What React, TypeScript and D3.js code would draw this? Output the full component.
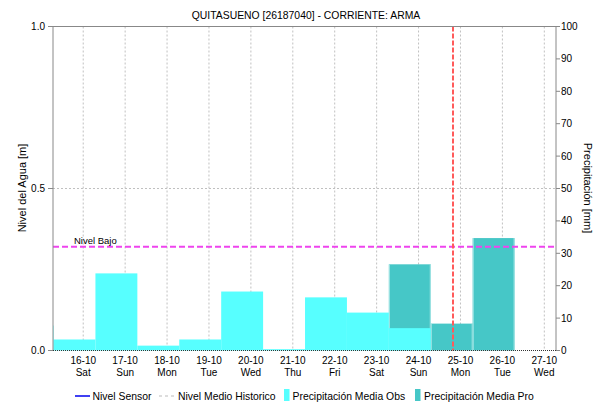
import React from "react";
import * as d3 from "d3";

const title = "QUITASUENO [26187040] - CORRIENTE: ARMA";
// precipitation periods start at 07:00 of these dates (24h accumulation)
const obsDates = ["2021-10-14", "2021-10-15", "2021-10-16", "2021-10-17", "2021-10-18", "2021-10-19", "2021-10-20", "2021-10-21", "2021-10-22", "2021-10-23"];
const obsValues = [7.7, 3.4, 23.8, 1.5, 3.4, 18.2, 0.4, 16.4, 11.7, 6.9];
const proDates = ["2021-10-23", "2021-10-24", "2021-10-25"];
const proValues = [26.6, 8.3, 34.7];
const tickDates = ["2021-10-16", "2021-10-17", "2021-10-18", "2021-10-19", "2021-10-20", "2021-10-21", "2021-10-22", "2021-10-23", "2021-10-24", "2021-10-25", "2021-10-26", "2021-10-27"];
const tickDays = ["Sat", "Sun", "Mon", "Tue", "Wed", "Thu", "Fri", "Sat", "Sun", "Mon", "Tue", "Wed"];
const levelTicks = [0, 0.5, 1.0];
const precipTicks = [0, 10, 20, 30, 40, 50, 60, 70, 80, 90, 100];
const nivelBajo = 0.32;
const nowTime = "2021-10-24T20:00:00Z";
const legendItems = ["Nivel Sensor", "Nivel Medio Historico", "Precipitación Media Obs", "Precipitación Media Pro"];

const W = 596, H = 402;
const L = 53, R = 556, T = 26.5, B = 350.5;
const FONT = "'Liberation Sans', Arial, sans-serif";
const OBS = "#57FFFF";
const PRO = "#46C7C7";

const d = (s: string, h = 0) => new Date(Date.parse(s + "T00:00:00Z") + h * 3600000);

export default function App() {
  const x = d3.scaleUtc().domain([d("2021-10-15", 6.7), d("2021-10-27", 6.7)]).range([L, R]);
  const yL = d3.scaleLinear().domain([0, 1]).range([B, T]);
  const yR = d3.scaleLinear().domain([0, 100]).range([B, T]);
  const bar = (ds: string, v: number, color: string, i: number, edge?: string) => {
    const x0 = Math.max(L, x(d(ds, 7)));
    const x1 = Math.min(R, x(d(ds, 31)));
    if (x1 <= x0) return null;
    return (
      <g key={color + i}>
        <rect x={x0} y={yR(v)} width={x1 - x0} height={B - yR(v)} fill={color} />
        {edge && <line x1={x0 + 0.5} x2={x0 + 0.5} y1={yR(v)} y2={B} stroke={edge} />}
        {edge && <line x1={x1 - 0.5} x2={x1 - 0.5} y1={yR(v)} y2={B} stroke={edge} />}
      </g>
    );
  };
  const nowX = Math.round(x(new Date(nowTime)));
  return (
    <svg width={W} height={H} style={{ position: "absolute", left: 0, top: 0, background: "#fff" }} fontFamily={FONT}>
      <rect width={W} height={H} fill="#fff" />
      <text x={306} y={19} textAnchor="middle" fontSize={10.4} fill="#000">{title}</text>
      {/* grid */}
      {tickDates.map((t, i) => (
        <line key={"g" + i} x1={x(d(t))} x2={x(d(t))} y1={T} y2={B} stroke="#c0c0c0" strokeDasharray="2,2" />
      ))}
      <line x1={L} x2={R} y1={yL(0.5)} y2={yL(0.5)} stroke="#c0c0c0" strokeDasharray="2,2" />
      {/* bars */}
      {proDates.map((t, i) => bar(t, proValues[i], PRO, i, "#a8e6e6"))}
      {obsDates.map((t, i) => bar(t, obsValues[i], OBS, i))}
      {/* nivel bajo */}
      <line x1={L} x2={R} y1={yL(nivelBajo)} y2={yL(nivelBajo)} stroke="#EE44EE" strokeWidth={2} strokeDasharray="6,3" />
      <text x={74} y={yL(nivelBajo) - 3} fontSize={9.5} fill="#000">Nivel Bajo</text>
      {/* now line */}
      <line x1={nowX} x2={nowX} y1={T} y2={B} stroke="#ff5a5a" strokeWidth={2} strokeDasharray="5,2" />
      {/* frame */}
      <line x1={L} x2={R} y1={T} y2={T} stroke="#888" />
      <line x1={L} x2={L} y1={T} y2={B} stroke="#888" />
      <line x1={R} x2={R} y1={T} y2={B} stroke="#888" />
      <line x1={L} x2={R} y1={B} y2={B} stroke="#333" strokeDasharray="1,1" />
      {/* left axis */}
      {levelTicks.map((v, i) => (
        <g key={"l" + i}>
          <line x1={L - 5} x2={L} y1={yL(v)} y2={yL(v)} stroke="#888" />
          <text x={45} y={yL(v) + 3.5} textAnchor="end" fontSize={10} fill="#000">{v.toFixed(1)}</text>
        </g>
      ))}
      {/* right axis */}
      {precipTicks.map((v, i) => (
        <g key={"r" + i}>
          <line x1={R} x2={R + 4} y1={yR(v)} y2={yR(v)} stroke="#888" />
          <text x={561} y={yR(v) + 3.5} textAnchor="start" fontSize={10} fill="#000">{v}</text>
        </g>
      ))}
      {/* x labels */}
      {tickDates.map((t, i) => {
        const px = x(d(t));
        return (
          <g key={"x" + i}>
            <text x={px} y={364} textAnchor="middle" fontSize={10} fill="#000">{d3.utcFormat("%d-%m")(d(t))}</text>
            <text x={px} y={376} textAnchor="middle" fontSize={10} fill="#000">{tickDays[i]}</text>
          </g>
        );
      })}
      {/* axis titles */}
      <text transform={`translate(26,188) rotate(-90)`} textAnchor="middle" fontSize={11} fill="#000">Nivel del Agua [m]</text>
      <text transform={`translate(584,188) rotate(90)`} textAnchor="middle" fontSize={11} fill="#000">Precipitación [mm]</text>
      {/* legend */}
      <line x1={75} x2={90} y1={396} y2={396} stroke="#0000EE" strokeWidth={1.5} />
      <text x={92.5} y={400} fontSize={10.4} fill="#000">{legendItems[0]}</text>
      <line x1={159} x2={175} y1={396} y2={396} stroke="#bbb" strokeDasharray="3,3" />
      <text x={178} y={400} fontSize={10.4} fill="#000">{legendItems[1]}</text>
      <rect x={284} y={389} width={5.5} height={12} fill={OBS} />
      <text x={292.5} y={400} fontSize={10.4} fill="#000">{legendItems[2]}</text>
      <rect x={415} y={389} width={5.5} height={12} fill={PRO} />
      <text x={424} y={400} fontSize={10.4} fill="#000">{legendItems[3]}</text>
    </svg>
  );
}
